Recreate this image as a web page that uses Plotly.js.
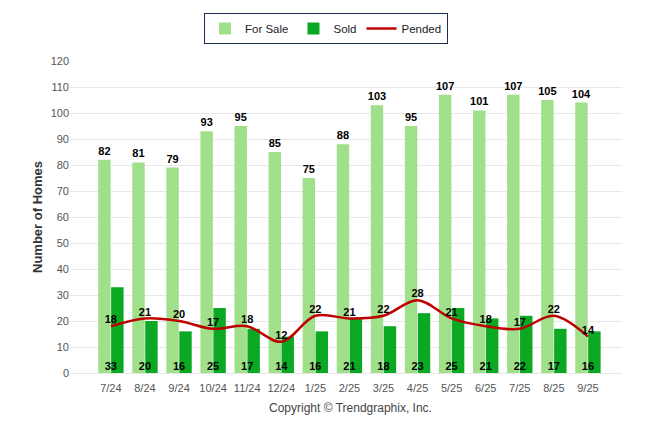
<!DOCTYPE html>
<html>
<head>
<meta charset="utf-8">
<script src="https://cdn.plot.ly/plotly-3.0.1.min.js"></script>
<style>
html,body{margin:0;padding:0;background:#fff;}
#chart{width:646px;height:434px;}
</style>
</head>
<body>
<div id="chart"></div>
<script>
const months = ["7/24","8/24","9/24","10/24","11/24","12/24","1/25","2/25","3/25","4/25","5/25","6/25","7/25","8/25","9/25"];
const forSale = [82,81,79,93,95,85,75,88,103,95,107,101,107,105,104];
const sold = [33,20,16,25,17,14,16,21,18,23,25,21,22,17,16];
const pended = [18,21,20,17,18,12,22,21,22,28,21,18,17,22,14];
const yTicks = [0,10,20,30,40,50,60,70,80,90,100,110,120];

const FONT = "Liberation Sans, Arial, sans-serif";
const idx = months.map((m,i)=>i);
const labelFont = {family: FONT, size: 11, color: "#000", weight: "bold"};

const traces = [
  {
    type: "bar", name: "For Sale", x: idx, y: forSale,
    marker: {color: "#a0e08b"},
    text: forSale.map(String), textposition: "outside", constraintext: "none",
    textfont: labelFont, outsidetextfont: labelFont, cliponaxis: false, hoverinfo: "skip"
  },
  {
    type: "bar", name: "Sold", x: idx, y: sold,
    marker: {color: "#0ba823"},
    hoverinfo: "skip"
  },
  {
    type: "scatter", mode: "lines", name: "Pended", x: idx, y: pended,
    line: {color: "#c00000", width: 2.5, shape: "spline", smoothing: 1},
    hoverinfo: "skip"
  },
  {
    type: "scatter", mode: "text", showlegend: false, x: idx, y: pended,
    text: pended.map(String), textposition: "top center",
    textfont: labelFont, hoverinfo: "skip", cliponaxis: false
  },
  {
    type: "scatter", mode: "text", showlegend: false, x: idx, y: sold.map(()=>0),
    text: sold.map(String), textposition: "top center",
    textfont: labelFont, hoverinfo: "skip", cliponaxis: false
  }
];

const layout = {
  width: 646, height: 434,
  margin: {l: 70, r: 24, t: 61, b: 61},
  paper_bgcolor: "#fff", plot_bgcolor: "#fff",
  font: {family: FONT, size: 11, color: "#555"},
  barmode: "group", bargap: 0.24, bargroupgap: 0.04,
  showlegend: true,
  legend: {
    orientation: "h", x: (204-70)/552, xanchor: "left", y: (373-13)/312, yanchor: "top",
    bgcolor: "#fff", bordercolor: "#1f2d54", borderwidth: 1,
    font: {family: FONT, size: 11.5, color: "#222"},
    traceorder: "normal", itemwidth: 30
  },
  xaxis: {
    type: "linear", range: [-1.2, 15],
    tickmode: "array", tickvals: idx, ticktext: months,
    ticks: "", showgrid: false, zeroline: false,
    showline: true, linecolor: "#e6e6e6", linewidth: 1,
    tickfont: {family: FONT, size: 11, color: "#555"},
    ticklabelstandoff: 5,
    fixedrange: true
  },
  yaxis: {
    range: [0, 120], tickmode: "array", tickvals: yTicks,
    showgrid: true, gridcolor: "#e8e8e8", gridwidth: 1,
    zeroline: false, showline: false, ticks: "",
    tickfont: {family: FONT, size: 11, color: "#555"},
    title: {text: "Number of Homes", font: {family: FONT, size: 13, color: "#333", weight: "bold"}, standoff: 5},
    fixedrange: true
  },
  shapes: [
    {type: "rect", xref: "paper", yref: "paper",
     x0: (206-70)/552, x1: (444-70)/552, y0: (373-42)/312, y1: (373-15)/312,
     fillcolor: "rgba(0,0,0,0.18)", line: {width: 0}, layer: "above"}
  ],
  annotations: [
    {text: "Copyright © Trendgraphix, Inc.", xref: "paper", yref: "paper",
     x: (350-70)/552, y: (373-408)/312, xanchor: "center", yanchor: "middle",
     showarrow: false, font: {family: FONT, size: 12, color: "#444"}}
  ]
};

Plotly.newPlot("chart", traces, layout, {displayModeBar: false, staticPlot: true});
</script>
</body>
</html>
